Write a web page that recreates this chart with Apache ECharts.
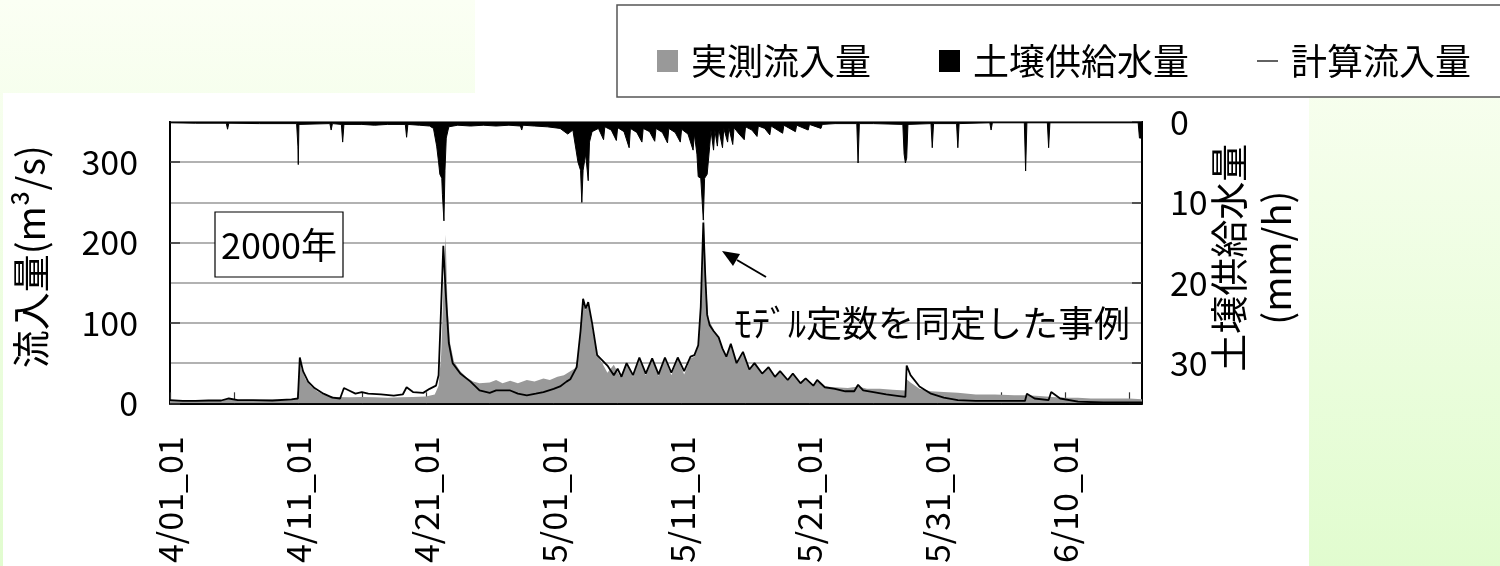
<!DOCTYPE html>
<html>
<head>
<meta charset="utf-8">
<script src="https://cdn.jsdelivr.net/npm/echarts@6/dist/echarts.min.js"></script>
<style>
  html, body { margin: 0; padding: 0; }
  body { width: 1500px; height: 566px; background: linear-gradient(to bottom, #fbfff4, #e1fccf); }
  #chart { width: 1500px; height: 566px; }
</style>
</head>
<body>
<div id="chart"></div>
<script>
// x in days from 4/01 (hourly data, 4/01_01 .. 6/15)
var dateLabels = ['4/01_01', '4/11_01', '4/21_01', '5/01_01', '5/11_01', '5/21_01', '5/31_01', '6/10_01'];

// 実測流入量 (m3/s) : [day, value]
var obsFlow = [
  [0,4],[1,3.5],[2,3],[3,3.5],[4,4],[4.6,5.5],[5.2,4],[6,4.5],[7,4],[8,4.5],[9,4.5],[9.9,5],
  [10.05,20],[10.15,55],[10.3,42],[10.6,30],[11,22],[11.5,15],[12,11],[12.5,9],[13,8],[14,7.5],
  [15,8],[16,7.5],[17,7],[18,7.5],[19,8],[20,8.5],[20.7,11],[21.0,22],[21.2,60],[21.4,150],
  [21.55,210],[21.7,120],[21.9,75],[22.2,52],[22.7,40],[23.2,32],[23.7,27],[24.2,25],[25,26],
  [25.5,29],[26,25],[26.6,28],[27.2,25],[27.9,29],[28.5,27],[29.2,31],[29.7,29],[30.3,33],
  [30.8,35],[31.3,40],[31.7,44],[32.0,70],[32.25,128],[32.5,116],[32.7,124],[33.0,95],[33.4,60],
  [33.8,50],[34.2,38],[34.7,48],[35.2,33],[35.7,50],[36.2,33],[36.7,56],[37.2,35],[37.7,55],
  [38.2,34],[38.7,56],[39.2,35],[39.7,56],[40.2,36],[40.7,56],[41.0,58],[41.3,70],[41.55,130],
  [41.75,235],[41.9,150],[42.1,105],[42.5,92],[42.9,80],[43.2,68],[43.5,58],[43.85,72],[44.3,50],
  [44.8,62],[45.3,42],[45.7,50],[46.3,37],[46.8,44],[47.3,33],[47.7,39],[48.3,29],[48.7,35],
  [49.3,25],[49.7,30],[50.3,23],[50.6,27],[51.2,21],[52,20],[53,19],[53.8,21],[54.5,18],[55.5,18],
  [56.5,17],[57.5,16],[57.6,30],[57.9,26],[58.6,18],[59.5,15],[60.5,14],[61.6,13],[63,11],
  [64.5,11],[66,10],[67,10],[68,9],[69,8],[70,7],[71,7],[72,6],[73,6],[74,6],[75,6],[76,5]
];

// 計算流入量 (m3/s)
var calcFlow = [
  [0,4],[1,3],[2,3],[3,3.5],[4,3.5],[4.6,6],[5.3,4],[6.5,4],[8,3.5],[9.5,5],[10.0,6],[10.15,57],
  [10.4,40],[10.8,27],[11.3,19],[12,12],[12.7,7],[13.3,6],[13.6,19],[14.0,16],[14.5,12],[15.0,14],
  [15.5,12],[16.5,11],[17.5,9.5],[18.2,11],[18.5,20],[19.0,14],[19.8,13],[20.3,18],[20.8,22],
  [21.0,35],[21.2,120],[21.37,196],[21.55,140],[21.8,75],[22.1,50],[22.7,37],[23.5,27],[24.2,16],
  [25.0,13],[25.5,16],[26.6,16],[27.2,12],[27.9,10],[28.6,12],[29.2,14],[30.0,18],[30.5,21],
  [31.0,27],[31.3,30],[31.8,45],[32.1,90],[32.3,130],[32.5,118],[32.7,126],[33.0,100],[33.4,60],
  [34.2,47],[34.7,35],[35.0,43],[35.3,33],[35.7,50],[36.2,35],[36.7,57],[37.2,37],[37.7,56],
  [38.2,36],[38.7,57],[39.2,38],[39.7,57],[40.2,40],[40.7,58],[41.0,60],[41.3,72],[41.5,120],
  [41.7,225],[41.85,160],[42.0,110],[42.2,97],[42.5,90],[42.9,82],[43.2,68],[43.5,58],[43.85,74],
  [44.3,50],[44.8,64],[45.3,42],[45.7,50],[46.3,37],[46.8,45],[47.3,33],[47.7,40],[48.3,29],
  [48.7,37],[49.3,25],[49.7,31],[50.3,22],[50.6,29],[51.2,20],[52,18],[52.8,15],[53.5,15],
  [53.8,23],[54.2,16],[55,14],[56,11],[57,9],[57.5,8],[57.6,47],[57.9,35],[58.6,21],[59.5,12],
  [60.5,7],[61.6,4],[63,3],[64.5,3],[66,3],[66.85,3],[67.0,12],[67.6,6],[68.7,4],[68.9,14],
  [69.6,6],[71,2],[73,1],[76,1]
];

// 土壌供給水量 (mm/h), right axis (inverted)
var soilSupply = [
  [0,0.1],[2,0.15],[4.4,0.15],[4.5,0.9],[4.6,0.15],[7,0.2],[9.9,0.2],[10.0,3],[10.03,5.3],
  [10.08,0.3],[12.5,0.2],[12.6,1.0],[12.7,0.2],[13.4,0.3],[13.5,2.5],[13.6,0.3],[15,0.3],[16,0.4],
  [17,0.3],[18.4,0.3],[18.5,1.9],[18.6,0.3],[19.5,0.4],[20.3,0.5],[20.6,0.8],[20.85,3],[21.0,5],
  [21.1,6.5],[21.25,7],[21.3,9],[21.42,12.3],[21.5,6],[21.6,2],[21.8,0.6],[22.5,0.4],[23.5,0.5],
  [24.5,0.4],[25.5,0.5],[26.5,0.4],[27.4,0.5],[27.5,1.0],[27.6,0.4],[28.5,0.5],[29.5,0.6],
  [30.5,0.8],[31.1,1.5],[31.5,1.0],[31.9,5],[32.1,6],[32.2,10],[32.3,6],[32.5,4],[32.7,7.3],
  [32.8,2.5],[33.0,1.2],[33.5,0.8],[33.9,2.2],[34.0,0.6],[34.5,1.0],[34.9,2.3],[35.0,0.7],
  [35.5,1.2],[35.9,3.2],[36.0,0.8],[36.5,1.3],[36.9,2.5],[37.0,0.8],[37.5,1.2],[37.9,2.4],
  [38.0,0.8],[38.5,1.3],[38.9,2.6],[39.0,0.8],[39.5,1.3],[39.9,2.5],[40.0,0.9],[40.5,1.5],
  [40.9,3.5],[41.0,1.5],[41.2,4],[41.3,6.8],[41.5,7],[41.7,12.2],[41.8,7],[42.0,6.5],[42.2,3],
  [42.3,1],[42.5,3.5],[42.6,1.0],[42.8,3.0],[42.9,0.8],[43.2,3.2],[43.3,0.8],[43.6,2.5],[43.7,0.7],
  [44.0,2.8],[44.1,0.7],[44.5,1.5],[44.9,2.2],[45.0,0.6],[45.5,1.0],[45.9,1.8],[46.0,0.5],
  [46.5,0.8],[46.9,1.6],[47.0,0.5],[47.9,1.4],[48.0,0.4],[48.9,1.2],[49.0,0.4],[49.9,1.0],
  [50.0,0.3],[50.9,0.8],[51.0,0.3],[52,0.2],[53.7,0.2],[53.8,5.1],[53.9,0.2],[55,0.2],[57.3,0.3],
  [57.4,4],[57.5,5.1],[57.6,4.5],[57.7,0.3],[59.5,0.2],[59.6,3.2],[59.7,0.2],[61.5,0.2],[61.6,3.2],
  [61.7,0.2],[64.1,0.1],[64.2,1.0],[64.3,0.1],[66.8,0.1],[66.9,6.1],[67.0,0.1],[68.6,0.1],
  [68.7,3.2],[68.8,0.1],[71,0.1],[75.7,0.1],[75.8,2],[76,2]
];

var FONT = "'Noto Sans CJK JP', sans-serif";

var option = {
    animation: false,
    textStyle: { fontFamily: FONT, color: '#000' },
    graphic: [
        { type: 'rect', z: -10, silent: true, shape: { x: 3, y: 93, width: 1306, height: 473 }, style: { fill: '#fff' } },
        { type: 'rect', z: -10, silent: true, shape: { x: 475, y: 0, width: 1025, height: 97 }, style: { fill: '#fff' } },
        { type: 'rect', z: -5, silent: true, shape: { x: 617, y: 5, width: 900, height: 92 },
          style: { fill: '#fff', stroke: '#555', lineWidth: 1.5 } },
        // 2000年 box
        { type: 'rect', z: 50, shape: { x: 215, y: 212, width: 128, height: 65 },
          style: { fill: '#fff', stroke: '#000', lineWidth: 1.2 } },
        { type: 'text', z: 51, x: 279, y: 245,
          style: { text: '2000年', font: '36px ' + FONT, fill: '#000', textAlign: 'center', textVerticalAlign: 'middle' } },
        // arrow
        { type: 'line', z: 50, shape: { x1: 766, y1: 277, x2: 737, y2: 260 }, style: { stroke: '#000', lineWidth: 2 } },
        { type: 'polygon', z: 50, shape: { points: [[722, 251], [740, 254], [733, 266]] }, style: { fill: '#000' } },
        { type: 'text', z: 51, x: 734, y: 323,
          style: { text: 'ﾓﾃﾞﾙ定数を同定した事例', font: '36px ' + FONT, fill: '#000', textVerticalAlign: 'middle' } }
    ],
    legend: {
        left: 652,
        top: 38,
        itemWidth: 21,
        itemHeight: 22,
        itemGap: 68,
        symbolKeepAspect: true,
        textStyle: { fontSize: 36, fontFamily: FONT, color: '#000', padding: [0, 0, 0, 8] },
        data: [
            { name: '実測流入量', icon: 'rect' },
            { name: '土壌供給水量', icon: 'rect' },
            { name: '計算流入量', icon: 'path://M0,0H20V1.6H0Z', itemStyle: { color: '#444' } }
        ]
    },
    grid: {
        left: 170, right: 358, top: 122, bottom: 161,
        show: true, borderColor: '#000', borderWidth: 2, backgroundColor: 'transparent'
    },
    xAxis: {
        type: 'value',
        min: 0, max: 76, interval: 5,
        axisLine: { lineStyle: { color: '#000', width: 2 } },
        axisTick: { inside: true, length: 11, lineStyle: { color: '#333', width: 1.2 } },
        splitLine: { show: false },
        axisLabel: {
            rotate: 90, margin: 33, fontSize: 34, color: '#000', fontFamily: FONT,
            showMaxLabel: false,
            formatter: function (v) {
                if (v % 10 === 0 && v / 10 < dateLabels.length) return dateLabels[v / 10];
                return '';
            }
        }
    },
    yAxis: [{
        type: 'value',
        min: 0, max: 350, interval: 100,
        name: '流入量(m³/s)',
        nameLocation: 'middle', nameRotate: 90, nameGap: 120,
        nameTextStyle: { fontSize: 38, fontFamily: FONT, color: '#000', padding: [0, 0, 0, 12] },
        axisLine: { show: true, lineStyle: { color: '#000', width: 2 } },
        axisTick: { show: true, inside: true, length: 10, lineStyle: { color: '#333', width: 1.5 } },
        axisLabel: { margin: 32, fontSize: 34, color: '#000', fontFamily: FONT, showMaxLabel: false },
        splitLine: { lineStyle: { color: '#999', width: 1.5 } },
        minorTick: { show: false, splitNumber: 2 },
        minorSplitLine: { show: true, lineStyle: { color: '#999', width: 1.5 } }
    }, {
        type: 'value',
        inverse: true,
        min: 0, max: 35, interval: 10,
        name: '土壌供給水量\n(mm/h)',
        nameLocation: 'middle', nameRotate: 90, nameGap: 63,
        nameMoveOverlap: false,
        nameTextStyle: { fontSize: 38, lineHeight: 48, fontFamily: FONT, color: '#000', padding: [0, 0, 0, 10] },
        axisLine: { show: true, lineStyle: { color: '#000', width: 2 } },
        axisTick: { show: true, inside: true, length: 10, lineStyle: { color: '#333', width: 1.5 } },
        axisLabel: { margin: 28, fontSize: 34, color: '#000', fontFamily: FONT, showMaxLabel: false },
        splitLine: { show: false }
    }],
    series: [{
        name: '実測流入量',
        type: 'line',
        yAxisIndex: 0,
        symbol: 'none',
        data: obsFlow,
        itemStyle: { color: '#999' },
        lineStyle: { width: 0, color: '#999' },
        areaStyle: { color: '#999', opacity: 1 },
        z: 2
    }, {
        name: '計算流入量',
        type: 'line',
        yAxisIndex: 0,
        symbol: 'none',
        data: calcFlow,
        itemStyle: { color: '#000' },
        lineStyle: { width: 1.8, color: '#000' },
        z: 3
    }, {
        name: '土壌供給水量',
        type: 'line',
        yAxisIndex: 1,
        symbol: 'none',
        data: soilSupply,
        itemStyle: { color: '#000' },
        lineStyle: { width: 1, color: '#000' },
        areaStyle: { color: '#000', opacity: 1 },
        z: 4
    }]
};

var chart = echarts.init(document.getElementById('chart'));
chart.setOption(option);
window.addEventListener('resize', function () {
    chart.resize();
});
</script>
</body>
</html>
